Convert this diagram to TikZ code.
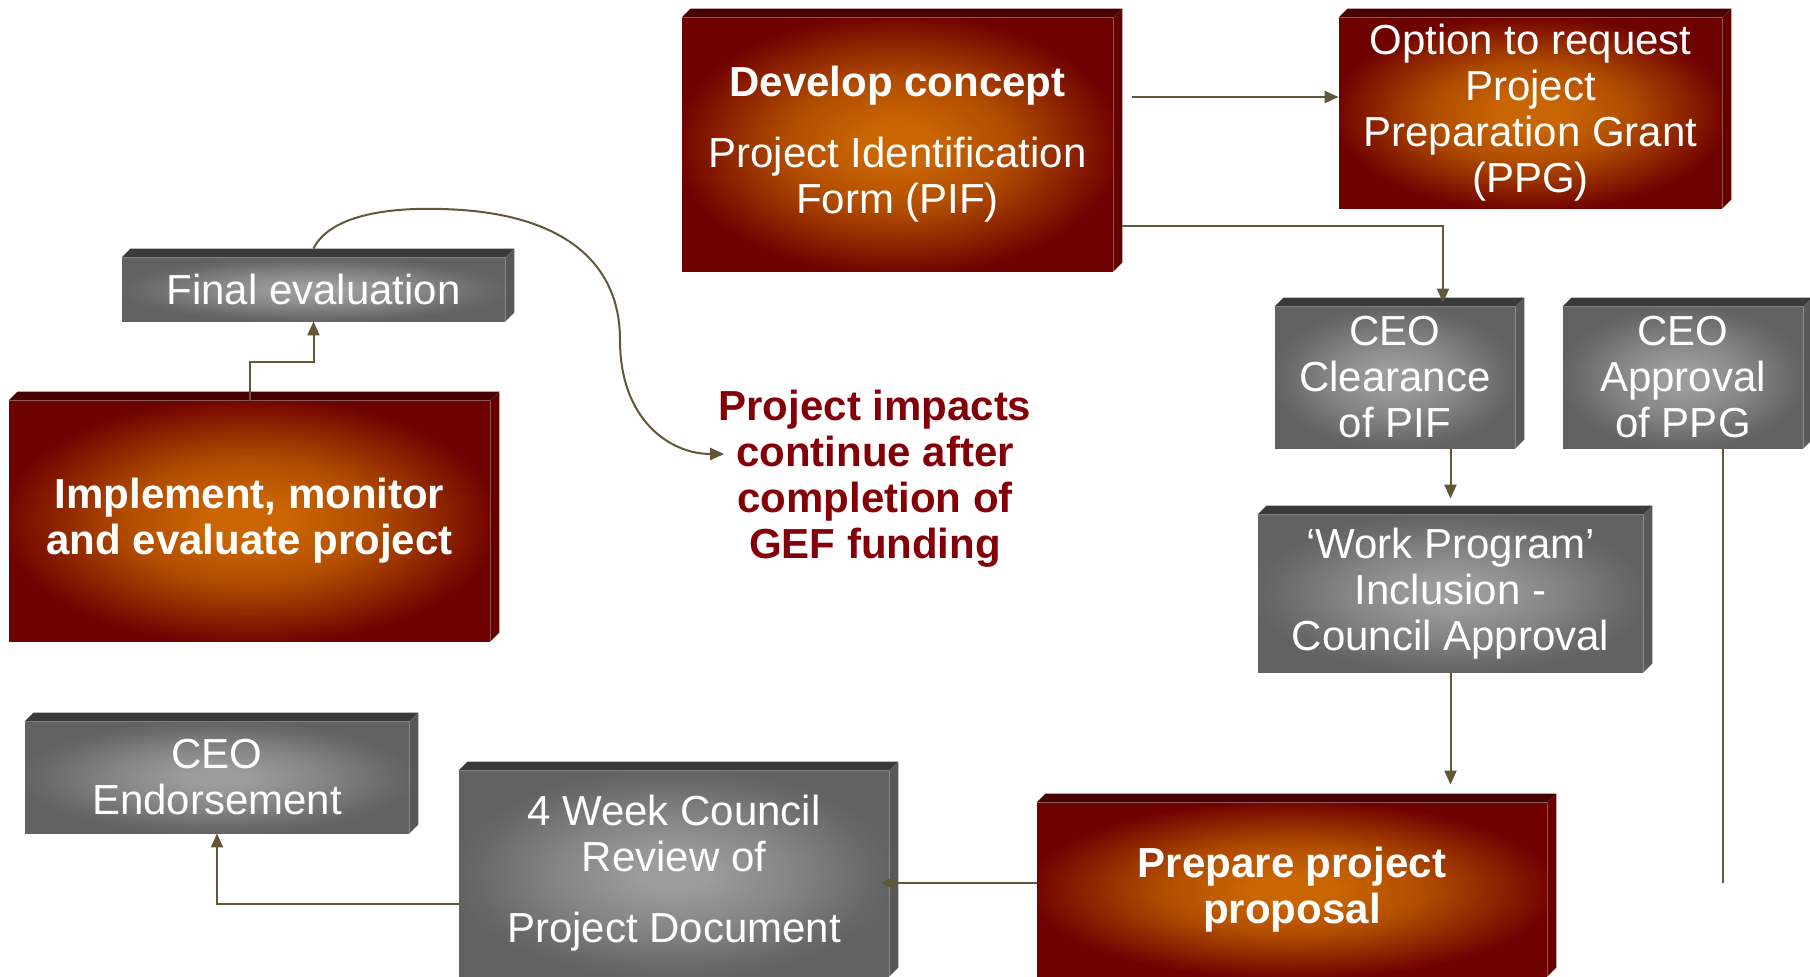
\documentclass[tikz,border=0pt]{standalone}
\usepackage{fontspec}
\setmainfont{Liberation Sans}
\usetikzlibrary{arrows.meta}

\definecolor{redIn}{RGB}{202,102,2}
\definecolor{redMid}{RGB}{176,76,0}
\definecolor{redDeep}{RGB}{142,36,0}
\definecolor{redOut}{RGB}{122,12,0}
\definecolor{redEdge}{RGB}{110,2,0}
\definecolor{redTop}{RGB}{72,0,0}
\definecolor{redSide}{RGB}{100,0,0}
\definecolor{greyIn}{RGB}{156,156,156}
\definecolor{greyMid}{RGB}{132,132,132}
\definecolor{greyOut}{RGB}{104,104,104}
\definecolor{greyEdge}{RGB}{98,98,98}
\definecolor{greyTop}{RGB}{58,58,58}
\definecolor{greySide}{RGB}{88,88,88}
\definecolor{lineOlive}{RGB}{96,88,56}
\definecolor{noteRed}{RGB}{132,0,8}

% the middle 50bp square is stretched over the block
\pgfdeclareradialshading{redglow}{\pgfpointorigin}{color(0bp)=(redIn); color(4bp)=(redIn); color(13bp)=(redMid); color(20bp)=(redDeep); color(24bp)=(redOut); color(26bp)=(redEdge); color(50bp)=(redEdge)}
\pgfdeclareradialshading{greyglow}{\pgfpointorigin}{color(0bp)=(greyIn); color(4bp)=(greyIn); color(14bp)=(greyMid); color(23bp)=(greyOut); color(26bp)=(greyEdge); color(50bp)=(greyEdge)}

\tikzset{
  box/.style={rectangle, inner sep=0pt, align=center, text=white,
    font=\fontsize{21pt}{23pt}\selectfont},
  boldbox/.style={font=\fontsize{21pt}{23pt}\selectfont\bfseries},
  redbox/.style={box, shade, shading=redglow},
  greybox/.style={box, shade, shading=greyglow},
  conn/.style={draw=lineOlive, line width=1pt},
  note/.style={inner sep=0pt, align=center, text=noteRed,
    font=\fontsize{21pt}{23pt}\selectfont\bfseries},
}

\begin{document}
\begin{tikzpicture}[x=0.5pt, y=-0.5pt, >={Triangle[length=7pt,width=6pt]}]
    \useasboundingbox (0,0) rectangle (1810,976);
    \clip (0,0) rectangle (1810,976);

    % Red steps
    \node[redbox, minimum width=215.5pt, minimum height=126.5pt] (dev) at (897.5,144.5)
        {\textbf{Develop concept}\\[12.5pt]Project Identification\\Form (PIF)};
    \node[redbox, minimum width=191.5pt, minimum height=95pt] (ppg) at (1530.5,113)
        {Option to request\\Project\\Preparation Grant\\(PPG)};
    \node[redbox, boldbox, minimum width=240.5pt, minimum height=120pt] (impl) at (249.5,521)
        {Implement, monitor\\and evaluate project};
    \node[redbox, boldbox, minimum width=255pt, minimum height=86.5pt] (prep) at (1292,889.5)
        {Prepare project\\proposal};

    % Grey steps
    \node[greybox, minimum width=120pt, minimum height=70.5pt] (clear) at (1395,377.5)
        {CEO\\Clearance\\of PIF};
    \node[greybox, minimum width=120pt, minimum height=70.5pt] (approve) at (1683,377.5)
        {CEO\\Approval\\of PPG};
    \node[greybox, minimum width=191.5pt, minimum height=31.5pt] (final) at (313.5,289.5)
        {Final evaluation};
    \node[greybox, minimum width=192.5pt, minimum height=78.5pt] (wprog) at (1450.5,593.5)
        {‘Work Program’\\Inclusion -\\Council Approval};
    \node[greybox, minimum width=192pt, minimum height=55.5pt] (endorse) at (217,777.5)
        {CEO\\Endorsement};
    \node[greybox, minimum width=215pt, minimum height=102.5pt] (review) at (674,873.5)
        {4 Week Council\\Review of\\[12.5pt]Project Document};

    % Top and side faces of the blocks
    \foreach \n/\t/\s in {dev/redTop/redSide, ppg/redTop/redSide, impl/redTop/redSide,
        prep/redTop/redSide, clear/greyTop/greySide, approve/greyTop/greySide,
        final/greyTop/greySide, wprog/greyTop/greySide, endorse/greyTop/greySide,
        review/greyTop/greySide} {
        \fill[\t] (\n.north west) -- ++(4.5pt,4.5pt) -- ([shift={(4.5pt,4.5pt)}]\n.north east)
            -- (\n.north east) -- cycle;
        \fill[\s] (\n.north east) -- ++(4.5pt,4.5pt) -- ([shift={(4.5pt,4.5pt)}]\n.south east)
            -- (\n.south east) -- cycle;
    }

    % Note
    \node[note] (note) at (875,479) {Project impacts\\continue after\\completion of\\GEF funding};

    % Connectors
    \coordinate (devR1) at ([xshift=9.5pt,yshift=23.75pt]dev.east);
    \coordinate (devR2) at ([xshift=4.5pt,yshift=-40.75pt]dev.east);
    \coordinate (clearTop) at ([xshift=24pt,yshift=2pt]clear.north);
    \coordinate (approveTail) at ([xshift=20pt]approve.south);
    \coordinate (prepIn) at ([yshift=3.25pt]prep.west);
    \coordinate (reviewOut) at ([yshift=-15pt]review.west);
    \coordinate (noteIn) at ([xshift=3pt,yshift=12.5pt]note.west);

    \draw[conn, ->] (devR1) -- (devR1 -| ppg.west);
    \draw[conn, ->] (devR2) -| (clearTop);
    \draw[conn, ->, shorten >=8pt] (clear.south -| wprog.north) -- (wprog.north);
    \draw[conn, ->, shorten >=9pt] (wprog.south) -- (wprog.south |- prep.north);
    \draw[conn] (approveTail) -- (approveTail |- prepIn);
    \draw[conn, ->, shorten >=-4.5pt] (prepIn) -- (prepIn -| review.east);
    \draw[conn, ->] (reviewOut) -| (endorse.south);
    \draw[conn, ->] (impl.north) -- ++(0,-39) -| (final.south);
    \draw[conn, ->] ([yshift=4.5pt]final.north) .. controls (330,215) and (390,205) .. (462,210)
        .. controls (560,217) and (620,260) .. (620,340)
        .. controls (620,420) and (670,454) .. (noteIn);
\end{tikzpicture}
\end{document}
